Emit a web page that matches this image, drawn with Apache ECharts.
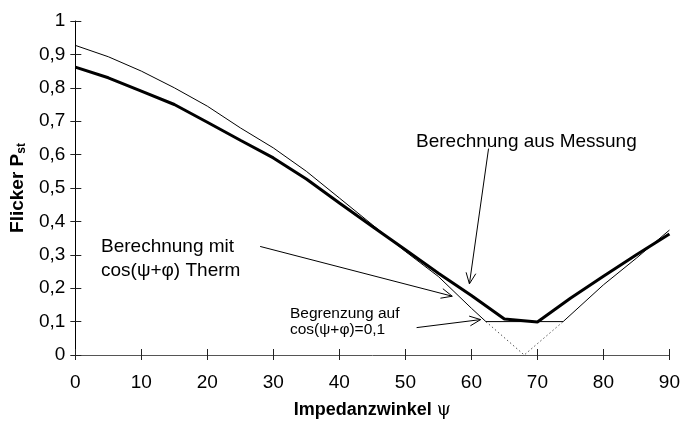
<!DOCTYPE html>
<html>
<head>
<meta charset="utf-8">
<script src="https://cdn.jsdelivr.net/npm/echarts@6/dist/echarts.min.js"></script>
<style>
html,body{margin:0;padding:0;background:#fff;}
#c{width:683px;height:424px;}
</style>
</head>
<body>
<div id="c"></div>
<script>
// ---- data ----
const angleMeas = [0,5,10,15,20,25,30,35,40,45,50,55,60,65,70,75,80,85,90];
const pstMeas   = [0.862,0.83,0.79,0.75,0.697,0.643,0.59,0.527,0.455,0.385,0.315,0.245,0.178,0.108,0.099,0.17,0.236,0.30,0.362];
const angleCos  = [0,5,10,15,20,25,30,35,40,45,50,55,60,62.2,73.9,80,85,90];
const pstCos    = [0.927,0.893,0.85,0.80,0.745,0.68,0.62,0.55,0.47,0.39,0.31,0.235,0.14,0.1,0.1,0.21,0.29,0.374];
const angleUnclipped = [62.2,68,73.9];
const pstUnclipped   = [0.1,0,0.1];
const xTickLabels = ['0','10','20','30','40','50','60','70','80','90'];
const yTickLabels = ['0','0,1','0,2','0,3','0,4','0,5','0,6','0,7','0,8','0,9','1'];

// annotation arrows in data coordinates [from, to]
const arrowMeas = [[62.6,0.618],[59.7,0.213]];
const arrowCos  = [[28.0,0.325],[57.1,0.176]];
const arrowLim  = [[51.7,0.082],[61.4,0.106]];

const FONT = '"Liberation Sans", Arial, sans-serif';
const pair = (xs, ys) => xs.map((x,i)=>[x, ys[i]]);

const chart = echarts.init(document.getElementById('c'), null, {renderer:'canvas'});
const axisFont = {fontFamily: FONT, fontSize: 19, color: '#000'};

const option = {
  animation: false,
  backgroundColor: '#fff',
  grid: {left: 70.5, right: 10, top: 21, bottom: 61, containLabel: false},
  xAxis: [{
    type: 'value', min: 0, max: 90, interval: 10,
    axisLine: {lineStyle: {color: '#555', width: 1}},
    axisTick: {show: true, inside: false, length: 5, lineStyle: {color: '#222'}},
    axisLabel: Object.assign({margin: 18, formatter: v => xTickLabels[Math.round(v/10)]}, axisFont),
    splitLine: {show: false},
    name: 'Impedanzwinkel {g|ψ}',
    nameLocation: 'middle', nameGap: 46,
    nameTextStyle: {fontFamily: FONT, fontSize: 18, fontWeight: 'bold', color: '#000',
      rich: {g: {fontFamily: '"DejaVu Serif", serif', fontSize: 18, fontWeight: 'normal', color: '#000'}}}
  },{
    type: 'value', min: 0, max: 90, interval: 10, position: 'bottom',
    axisLine: {show: false},
    axisTick: {show: true, inside: true, length: 6, lineStyle: {color: '#222'}},
    axisLabel: {show: false}, splitLine: {show: false}
  }],
  yAxis: [{
    type: 'value', min: 0, max: 1, interval: 0.1,
    axisLine: {show: true, lineStyle: {color: '#000', width: 1}},
    axisTick: {show: true, inside: false, length: 5, lineStyle: {color: '#222'}},
    axisLabel: Object.assign({margin: 10, formatter: v => yTickLabels[Math.round(v*10)]}, axisFont),
    splitLine: {show: false},
    name: '{a|Flicker P}{s|st}',
    nameLocation: 'middle', nameGap: 45, nameRotate: 90,
    nameTextStyle: {color: '#000',
      rich: {
        a: {fontFamily: FONT, fontSize: 19, fontWeight: 'bold', color: '#000', lineHeight: 22},
        s: {fontFamily: FONT, fontSize: 12, fontWeight: 'bold', color: '#000', lineHeight: 22, padding: [8,0,0,0]}
      }}
  },{
    type: 'value', min: 0, max: 1, interval: 0.1, position: 'left',
    axisLine: {show: false},
    axisTick: {show: true, inside: true, length: 6, lineStyle: {color: '#222'}},
    axisLabel: {show: false}, splitLine: {show: false}
  }],
  series: [
    {type: 'line', name: 'unbegrenzt', data: pair(angleUnclipped, pstUnclipped), symbol: 'none',
     lineStyle: {color: '#555', width: 1, type: [1.5,2.5]}, z: 1},
    {type: 'line', name: 'Berechnung mit cos', data: pair(angleCos, pstCos), symbol: 'none',
     lineStyle: {color: '#000', width: 1}, z: 2},
    {type: 'line', name: 'Berechnung aus Messung', data: pair(angleMeas, pstMeas), symbol: 'none',
     lineStyle: {color: '#000', width: 3}, z: 3}
  ]
};
chart.setOption(option);

function arrow(a, len, ang) {
  const p0 = chart.convertToPixel({gridIndex: 0}, a[0]);
  const p1 = chart.convertToPixel({gridIndex: 0}, a[1]);
  const dx = p0[0]-p1[0], dy = p0[1]-p1[1];
  const d = Math.hypot(dx, dy); const ux = dx/d, uy = dy/d;
  const rot = (t) => [ux*Math.cos(t) - uy*Math.sin(t), ux*Math.sin(t) + uy*Math.cos(t)];
  const r1 = rot(ang), r2 = rot(-ang);
  return [
    {type: 'line', shape: {x1: p0[0], y1: p0[1], x2: p1[0], y2: p1[1]}, style: {stroke: '#000', lineWidth: 1}, z: 10},
    {type: 'polyline', shape: {points: [[p1[0]+r1[0]*len, p1[1]+r1[1]*len],[p1[0],p1[1]],[p1[0]+r2[0]*len, p1[1]+r2[1]*len]]},
     style: {stroke: '#000', lineWidth: 1, fill: null}, z: 10}
  ];
}

const txt = (x, y, s, size, lh) => ({type: 'text', left: x, top: y,
  style: {text: s, fontFamily: FONT, fontSize: size, fill: '#000', lineHeight: lh}, z: 10});

chart.setOption({graphic: [].concat(
  arrow(arrowMeas, 12, 0.42),
  arrow(arrowCos, 12, 0.42),
  arrow(arrowLim, 12, 0.42),
  [
    txt(416, 130, 'Berechnung aus Messung', 19, 24),
    txt(101, 235, 'Berechnung mit\ncos(ψ+φ) Therm', 19, 24),
    txt(290, 305, 'Begrenzung auf\ncos(ψ+φ)=0,1', 15.5, 16.5)
  ]
)});
</script>
</body>
</html>
